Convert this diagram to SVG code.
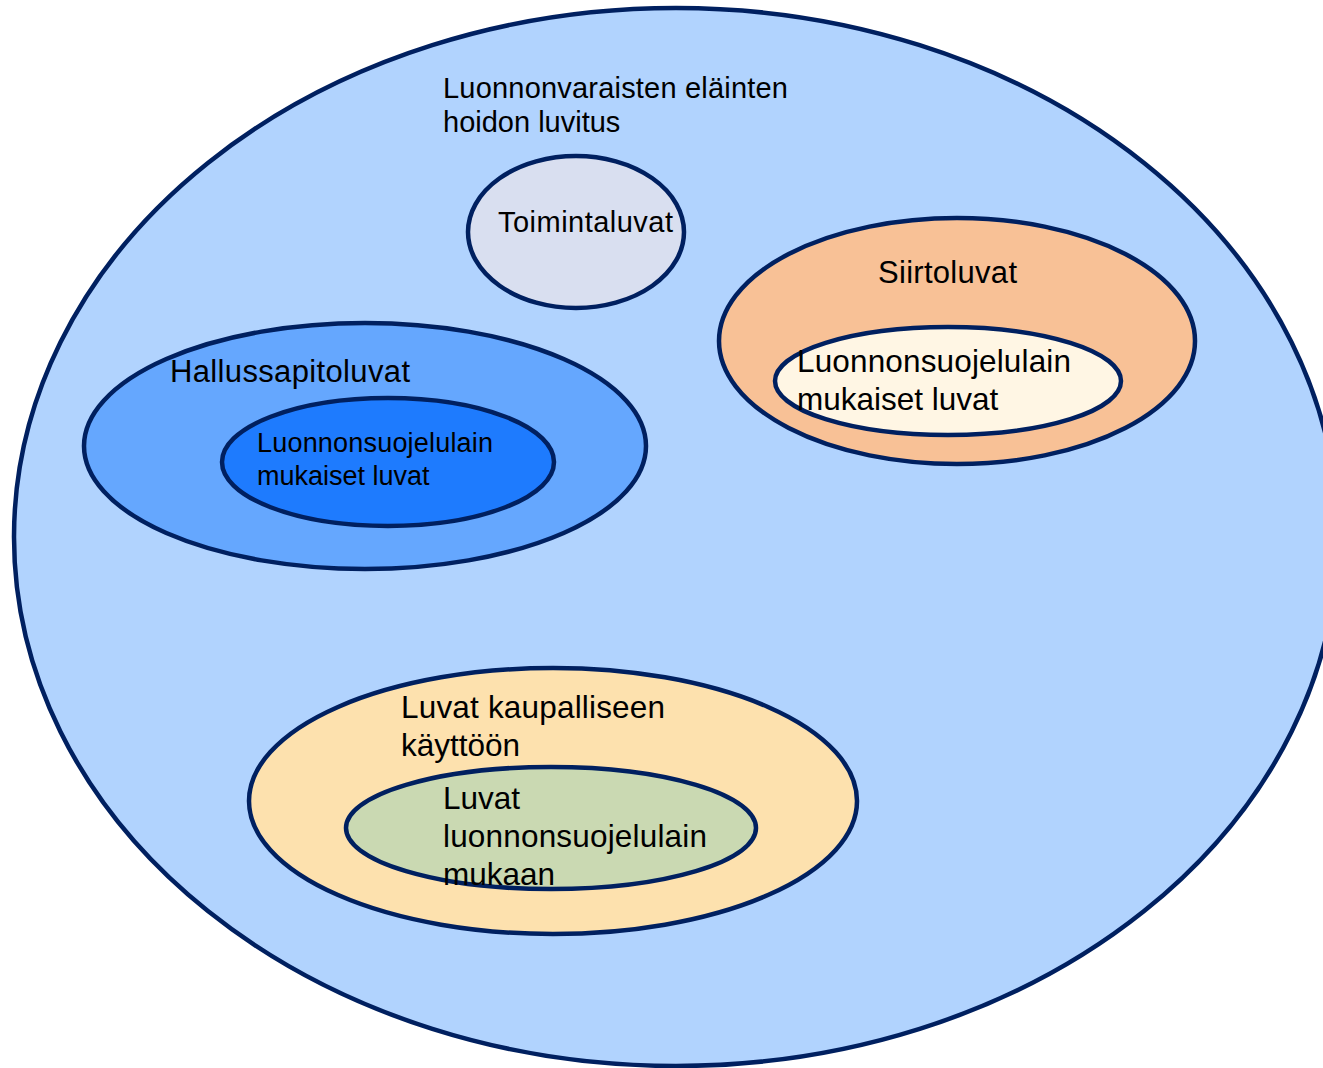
<svg xmlns="http://www.w3.org/2000/svg" width="1323" height="1068" viewBox="0 0 1323 1068">
<style>
.sh{stroke:#002060;stroke-width:4.5}
text{font-family:"Liberation Sans",Arial,sans-serif;fill:#000}
</style>
<rect width="1323" height="1068" fill="#fff"/>
<g id="luvitus">
<ellipse class="sh" cx="676" cy="537" rx="662" ry="529" fill="#B1D3FE"/>
<text font-size="29"><tspan x="443" y="98" textLength="345">Luonnonvaraisten eläinten</tspan><tspan x="443" y="132">hoidon luvitus</tspan></text>
</g>
<g id="toimintaluvat">
<ellipse class="sh" cx="576" cy="232" rx="108" ry="76" fill="#D9DFF0"/>
<text x="498" y="232" font-size="29" textLength="175">Toimintaluvat</text>
</g>
<g id="hallussapitoluvat">
<ellipse class="sh" cx="365" cy="446" rx="281" ry="123" fill="#65A7FE"/>
<text x="170" y="382" font-size="31" textLength="240">Hallussapitoluvat</text>
</g>
<g id="hallussapito-luonnonsuojelu">
<ellipse class="sh" cx="388" cy="462" rx="166" ry="64" fill="#1E7BFE"/>
<text font-size="27"><tspan x="257" y="452" textLength="236">Luonnonsuojelulain</tspan><tspan x="257" y="485">mukaiset luvat</tspan></text>
</g>
<g id="siirtoluvat">
<ellipse class="sh" cx="957" cy="341" rx="238" ry="123" fill="#F8C196"/>
<text x="878" y="283" font-size="31" textLength="139">Siirtoluvat</text>
</g>
<g id="siirto-luonnonsuojelu">
<ellipse class="sh" cx="948" cy="381" rx="173" ry="54" fill="#FFF6E4"/>
<text font-size="31.5"><tspan x="797" y="372" textLength="274">Luonnonsuojelulain</tspan><tspan x="797" y="410">mukaiset luvat</tspan></text>
</g>
<g id="kaupallinen">
<ellipse class="sh" cx="553" cy="801" rx="304" ry="133" fill="#FDE1AE"/>
<text font-size="31.5"><tspan x="401" y="718" textLength="264">Luvat kaupalliseen</tspan><tspan x="401" y="756">käyttöön</tspan></text>
</g>
<g id="kaupallinen-luonnonsuojelu">
<ellipse class="sh" cx="551" cy="828" rx="205" ry="61" fill="#CAD9B2"/>
<text font-size="31.5"><tspan x="443" y="809">Luvat</tspan><tspan x="443" y="847" textLength="264">luonnonsuojelulain</tspan><tspan x="443" y="885">mukaan</tspan></text>
</g>
<g id="connectors"/>
</svg>
